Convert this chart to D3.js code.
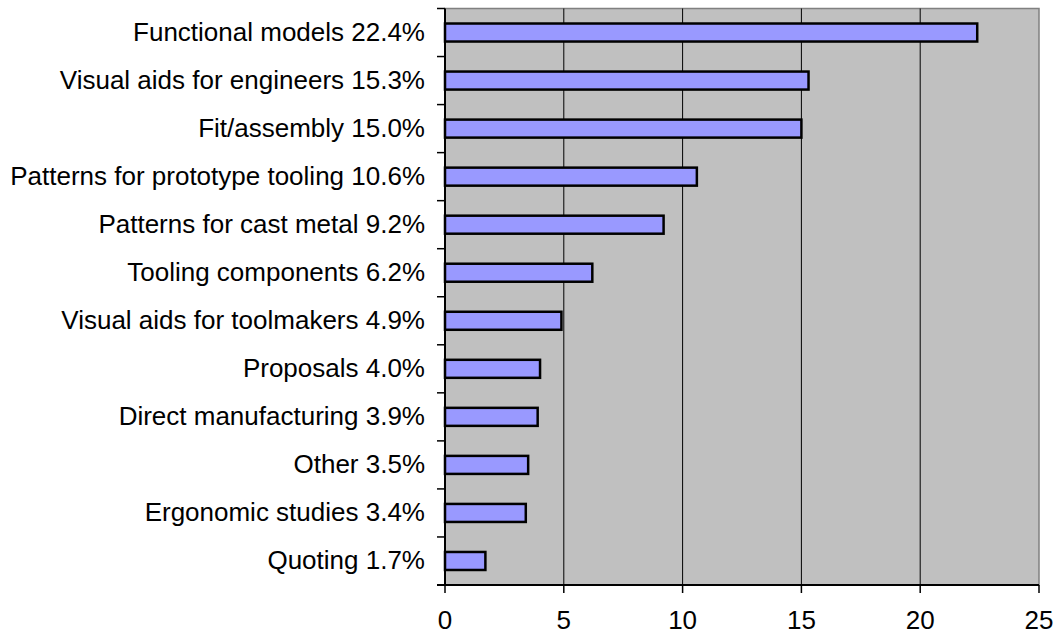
<!DOCTYPE html>
<html><head><meta charset="utf-8">
<script src="https://cdn.jsdelivr.net/npm/d3@7"></script>
<style>body{margin:0;background:#fff}svg{display:block}text{font-family:"Liberation Sans",Arial,sans-serif}</style>
</head><body><svg id="c" width="1056" height="636"></svg>
<script>
const categories = ["Functional models 22.4%","Visual aids for engineers 15.3%","Fit/assembly 15.0%","Patterns for prototype tooling 10.6%","Patterns for cast metal 9.2%","Tooling components 6.2%","Visual aids for toolmakers 4.9%","Proposals 4.0%","Direct manufacturing 3.9%","Other 3.5%","Ergonomic studies 3.4%","Quoting 1.7%"];
const values = [22.4,15.3,15.0,10.6,9.2,6.2,4.9,4.0,3.9,3.5,3.4,1.7];
const xTicks = [0,5,10,15,20,25];

const svg = d3.select("#c");
const L=445, R=1039, T=8.5, B=585;
const x = d3.scaleLinear().domain([0,25]).range([L,R]);
const y = d3.scaleBand().domain(categories).range([T,B]).paddingInner(0.625).paddingOuter(0.3125);
const yb = d3.scaleBand().domain(categories).range([T,B]);

svg.append("rect").attr("x",L).attr("y",T).attr("width",R-L).attr("height",B-T).attr("fill","#c0c0c0").attr("stroke","#808080").attr("stroke-width",1.5);
svg.append("g").selectAll("line").data(xTicks.slice(1,-1)).join("line")
  .attr("x1",d=>x(d)).attr("x2",d=>x(d)).attr("y1",T).attr("y2",B).attr("stroke","#000").attr("stroke-width",1);

svg.append("g").selectAll("rect").data(values).join("rect")
  .attr("x",x(0)).attr("y",(d,i)=>y(categories[i]))
  .attr("width",d=>x(d)-x(0)).attr("height",y.bandwidth())
  .attr("fill","#9999ff").attr("stroke","#000").attr("stroke-width",2.5);

// y axis
const ya = svg.append("g").attr("transform",`translate(${L},0)`);
ya.append("line").attr("x1",0).attr("x2",0).attr("y1",T).attr("y2",B).attr("stroke","#000").attr("stroke-width",2);
const yTickPos = categories.map(c=>yb(c)).concat([B]);
ya.selectAll("line.t").data(yTickPos).join("line").attr("class","t")
  .attr("x1",-8).attr("x2",0).attr("y1",d=>d).attr("y2",d=>d).attr("stroke","#000").attr("stroke-width",1.5);
ya.selectAll("text").data(categories).join("text")
  .attr("x",-20).attr("y",d=>yb(d)+yb.bandwidth()/2+8.5)
  .attr("text-anchor","end").attr("font-size",26).attr("fill","#000").text(d=>d);

// x axis
const xa = svg.append("g").attr("transform",`translate(0,${B})`);
xa.append("line").attr("x1",L-8).attr("x2",R).attr("y1",0).attr("y2",0).attr("stroke","#000").attr("stroke-width",2);
xa.selectAll("line.t").data(xTicks).join("line").attr("class","t")
  .attr("x1",d=>x(d)).attr("x2",d=>x(d)).attr("y1",0).attr("y2",8).attr("stroke","#000").attr("stroke-width",1.5);
xa.selectAll("text").data(xTicks).join("text")
  .attr("x",d=>x(d)).attr("y",44)
  .attr("text-anchor","middle")
  .attr("font-size",26).attr("fill","#000").text(d=>d);
</script></body></html>
